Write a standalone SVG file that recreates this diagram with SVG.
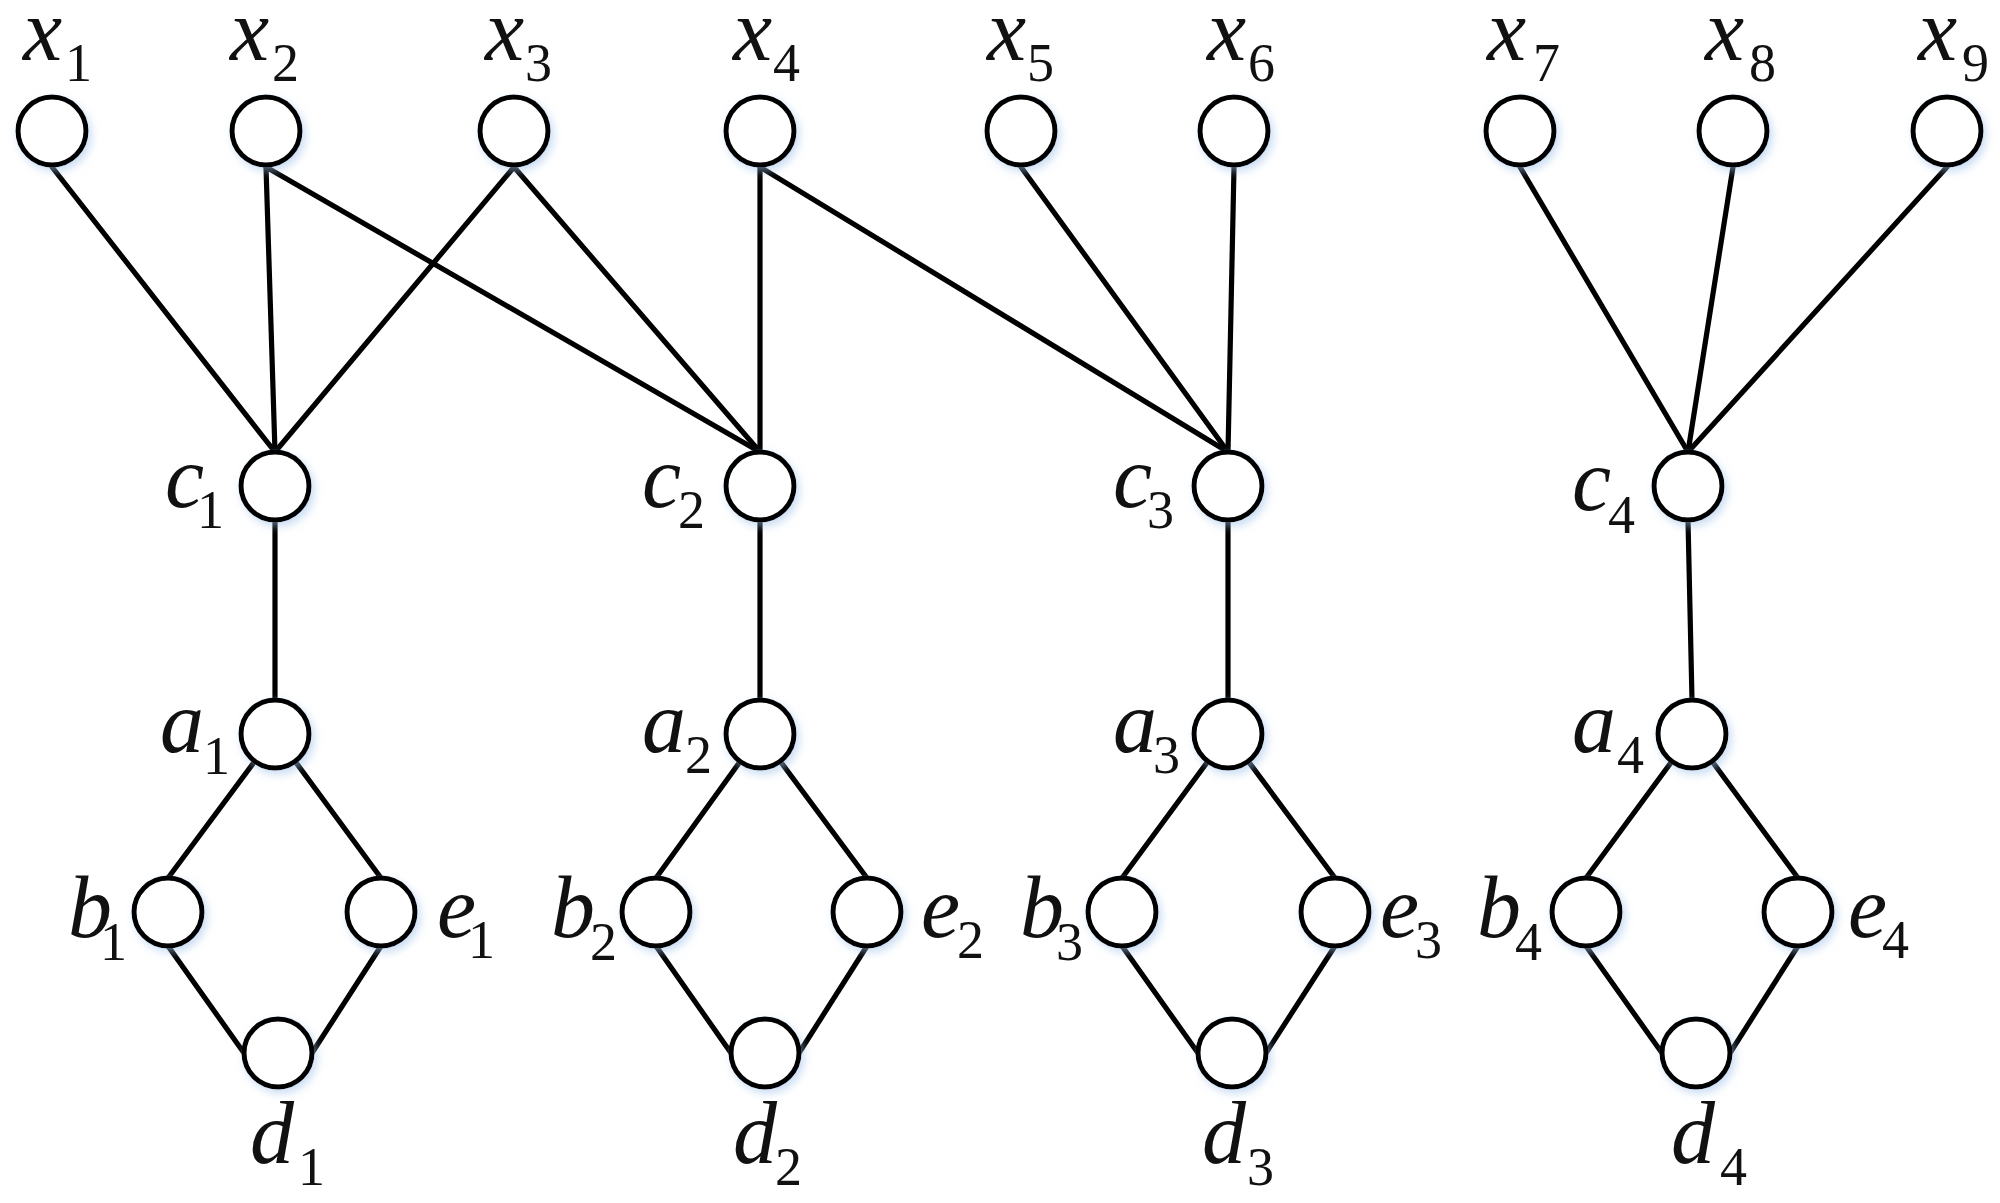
<svg xmlns="http://www.w3.org/2000/svg" width="2000" height="1203" viewBox="0 0 2000 1203">
<defs>
<filter id="glow" x="-30%" y="-30%" width="160%" height="160%">
<feDropShadow dx="3" dy="4" stdDeviation="4" flood-color="#9fc0e8" flood-opacity="0.55"/>
</filter>
<style>
.n{fill:#fff;stroke:#000;stroke-width:5;filter:url(#glow)}
.e{stroke:#000;stroke-width:5.2;fill:none;stroke-linecap:round}
.l{font-family:"Liberation Serif","Times New Roman",serif;font-style:italic;font-size:88px;fill:#111}
.s{font-style:normal;font-size:54px}
</style>
</defs>
<rect width="2000" height="1203" fill="#fff"/>
<g id="edges">
<line class="e" x1="52" y1="167" x2="275" y2="452"/>
<line class="e" x1="266" y1="167" x2="275" y2="452"/>
<line class="e" x1="514" y1="167" x2="275" y2="452"/>
<line class="e" x1="266" y1="167" x2="760" y2="452"/>
<line class="e" x1="514" y1="167" x2="760" y2="452"/>
<line class="e" x1="760" y1="167" x2="760" y2="452"/>
<line class="e" x1="760" y1="167" x2="1228" y2="452"/>
<line class="e" x1="1021" y1="167" x2="1228" y2="452"/>
<line class="e" x1="1234" y1="167" x2="1228" y2="452"/>
<line class="e" x1="1520" y1="167" x2="1688" y2="452"/>
<line class="e" x1="1733" y1="167" x2="1688" y2="452"/>
<line class="e" x1="1947" y1="167" x2="1688" y2="452"/>
<line class="e" x1="275" y1="520" x2="275" y2="700"/>
<line class="e" x1="760" y1="520" x2="760" y2="700"/>
<line class="e" x1="1228" y1="520" x2="1228" y2="700"/>
<line class="e" x1="1688" y1="520" x2="1692" y2="700"/>
<line class="e" x1="275" y1="734" x2="168" y2="878"/>
<line class="e" x1="275" y1="734" x2="381" y2="878"/>
<line class="e" x1="168" y1="946" x2="244" y2="1053"/>
<line class="e" x1="381" y1="946" x2="312" y2="1053"/>
<line class="e" x1="760" y1="734" x2="656" y2="878"/>
<line class="e" x1="760" y1="734" x2="867" y2="878"/>
<line class="e" x1="656" y1="946" x2="731" y2="1053"/>
<line class="e" x1="867" y1="946" x2="799" y2="1053"/>
<line class="e" x1="1228" y1="734" x2="1122" y2="878"/>
<line class="e" x1="1228" y1="734" x2="1335" y2="878"/>
<line class="e" x1="1122" y1="946" x2="1198" y2="1053"/>
<line class="e" x1="1335" y1="946" x2="1266" y2="1053"/>
<line class="e" x1="1692" y1="734" x2="1586" y2="878"/>
<line class="e" x1="1692" y1="734" x2="1798" y2="878"/>
<line class="e" x1="1586" y1="946" x2="1662" y2="1053"/>
<line class="e" x1="1798" y1="946" x2="1730" y2="1053"/>
</g>
<g id="x1"><circle class="n" cx="52" cy="131" r="34"/><text class="l" x="23" y="60">x<tspan class="s" x="65" y="81">1</tspan></text></g>
<g id="x2"><circle class="n" cx="266" cy="131" r="34"/><text class="l" x="230" y="60">x<tspan class="s" x="272" y="81">2</tspan></text></g>
<g id="x3"><circle class="n" cx="514" cy="131" r="34"/><text class="l" x="485" y="60">x<tspan class="s" x="525" y="81">3</tspan></text></g>
<g id="x4"><circle class="n" cx="760" cy="131" r="34"/><text class="l" x="733" y="60">x<tspan class="s" x="773" y="81">4</tspan></text></g>
<g id="x5"><circle class="n" cx="1021" cy="131" r="34"/><text class="l" x="987" y="60">x<tspan class="s" x="1027" y="81">5</tspan></text></g>
<g id="x6"><circle class="n" cx="1234" cy="131" r="34"/><text class="l" x="1207" y="60">x<tspan class="s" x="1248" y="81">6</tspan></text></g>
<g id="x7"><circle class="n" cx="1520" cy="131" r="34"/><text class="l" x="1487" y="60">x<tspan class="s" x="1533" y="81">7</tspan></text></g>
<g id="x8"><circle class="n" cx="1733" cy="131" r="34"/><text class="l" x="1705" y="60">x<tspan class="s" x="1749" y="81">8</tspan></text></g>
<g id="x9"><circle class="n" cx="1947" cy="131" r="34"/><text class="l" x="1918" y="60">x<tspan class="s" x="1962" y="81">9</tspan></text></g>
<g id="c1"><circle class="n" cx="275" cy="486" r="34"/><text class="l" x="165" y="507">c<tspan class="s" x="197" y="528">1</tspan></text></g>
<g id="c2"><circle class="n" cx="760" cy="486" r="34"/><text class="l" x="642" y="507">c<tspan class="s" x="678" y="528">2</tspan></text></g>
<g id="c3"><circle class="n" cx="1228" cy="486" r="34"/><text class="l" x="1113" y="507">c<tspan class="s" x="1147" y="528">3</tspan></text></g>
<g id="c4"><circle class="n" cx="1688" cy="486" r="34"/><text class="l" x="1572" y="510">c<tspan class="s" x="1608" y="533">4</tspan></text></g>
<g id="a1"><circle class="n" cx="275" cy="734" r="34"/><text class="l" x="160" y="752">a<tspan class="s" x="203" y="774">1</tspan></text></g>
<g id="a2"><circle class="n" cx="760" cy="734" r="34"/><text class="l" x="642" y="752">a<tspan class="s" x="685" y="773">2</tspan></text></g>
<g id="a3"><circle class="n" cx="1228" cy="734" r="34"/><text class="l" x="1113" y="752">a<tspan class="s" x="1153" y="773">3</tspan></text></g>
<g id="a4"><circle class="n" cx="1692" cy="734" r="34"/><text class="l" x="1572" y="752">a<tspan class="s" x="1617" y="773">4</tspan></text></g>
<g id="b1"><circle class="n" cx="168" cy="912" r="34"/><text class="l" x="68" y="937">b<tspan class="s" x="100" y="960">1</tspan></text></g>
<g id="b2"><circle class="n" cx="656" cy="912" r="34"/><text class="l" x="551" y="937">b<tspan class="s" x="590" y="960">2</tspan></text></g>
<g id="b3"><circle class="n" cx="1122" cy="912" r="34"/><text class="l" x="1020" y="937">b<tspan class="s" x="1056" y="960">3</tspan></text></g>
<g id="b4"><circle class="n" cx="1586" cy="912" r="34"/><text class="l" x="1477" y="937">b<tspan class="s" x="1515" y="960">4</tspan></text></g>
<g id="e1"><circle class="n" cx="381" cy="912" r="34"/><text class="l" x="437" y="937">e<tspan class="s" x="468" y="958">1</tspan></text></g>
<g id="e2"><circle class="n" cx="867" cy="912" r="34"/><text class="l" x="921" y="937">e<tspan class="s" x="957" y="958">2</tspan></text></g>
<g id="e3"><circle class="n" cx="1335" cy="912" r="34"/><text class="l" x="1380" y="937">e<tspan class="s" x="1415" y="958">3</tspan></text></g>
<g id="e4"><circle class="n" cx="1798" cy="912" r="34"/><text class="l" x="1848" y="937">e<tspan class="s" x="1882" y="958">4</tspan></text></g>
<g id="d1"><circle class="n" cx="278" cy="1053" r="34"/><text class="l" x="250" y="1163">d<tspan class="s" x="298" y="1185">1</tspan></text></g>
<g id="d2"><circle class="n" cx="765" cy="1053" r="34"/><text class="l" x="733" y="1163">d<tspan class="s" x="775" y="1185">2</tspan></text></g>
<g id="d3"><circle class="n" cx="1232" cy="1053" r="34"/><text class="l" x="1202" y="1163">d<tspan class="s" x="1247" y="1185">3</tspan></text></g>
<g id="d4"><circle class="n" cx="1696" cy="1053" r="34"/><text class="l" x="1671" y="1163">d<tspan class="s" x="1720" y="1185">4</tspan></text></g>
</svg>
